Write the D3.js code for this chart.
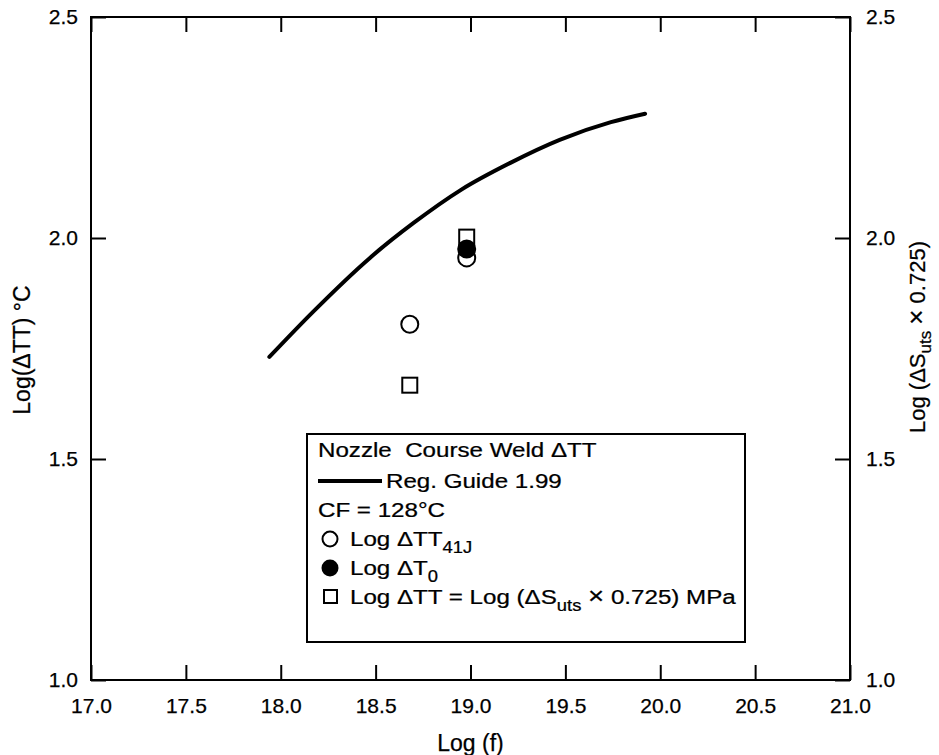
<!DOCTYPE html>
<html>
<head>
<meta charset="utf-8">
<script src="https://cdn.jsdelivr.net/npm/d3@7"></script>
<style>
  html, body { margin: 0; padding: 0; background: #fff; }
  svg { display: block; font-family: "Liberation Sans", Arial, Helvetica, sans-serif; }
  text { white-space: pre; }
</style>
</head>
<body>
<svg id="chart" width="939" height="755"></svg>
<script>
// Reg. Guide 1.99 trend curve: Log(f) vs Log(ΔTT)
const curveLogF  = [17.94, 18.17, 18.47, 18.70, 18.95, 19.21, 19.47, 19.74, 19.92];
const curveLogTT = [1.731, 1.833, 1.955, 2.034, 2.109, 2.170, 2.222, 2.262, 2.281];

// Measured shifts
const openLogF   = [18.68, 18.98];   // Log ΔTT41J
const openLogTT  = [1.805, 1.955];
const filledLogF  = [18.98];         // Log ΔT0
const filledLogTT = [1.975];
const squareLogF  = [18.68, 18.98];  // Log (ΔSuts × 0.725)
const squareLogTT = [1.667, 2.002];

// Axis ticks
const xTicks = [17.0, 17.5, 18.0, 18.5, 19.0, 19.5, 20.0, 20.5, 21.0];
const yTicks = [1.0, 1.5, 2.0, 2.5];

const svg = d3.select("#chart");
const L = 91, R = 850, T = 17, B = 680;

const x = d3.scaleLinear().domain([17, 21]).range([L, R]);
const y = d3.scaleLinear().domain([1, 2.5]).range([B, T]);
const fmt = d3.format(".1f");

// slightly heavier strokes on glyphs, like the printed figure
function ink(sel) {
  sel.attr("fill", "#000").attr("stroke", "#000").attr("stroke-width", 0.25);
}

function styleAxis(g) {
  g.select(".domain").remove();
  g.selectAll(".tick line").attr("stroke", "#000").attr("stroke-width", 2);
  g.selectAll(".tick text").attr("font-size", 21).call(ink);
}

// inward ticks on all four sides
svg.append("g").attr("transform", `translate(0,${B})`)
  .call(d3.axisBottom(x).tickValues(xTicks).tickFormat(fmt).tickSize(-15).tickPadding(18))
  .call(styleAxis);
svg.append("g").attr("transform", `translate(0,${T})`)
  .call(d3.axisTop(x).tickValues(xTicks).tickFormat("").tickSize(-15))
  .call(styleAxis);
svg.append("g").attr("transform", `translate(${L},0)`)
  .call(d3.axisLeft(y).tickValues(yTicks).tickFormat(fmt).tickSize(-15).tickPadding(13))
  .call(styleAxis);
svg.append("g").attr("transform", `translate(${R},0)`)
  .call(d3.axisRight(y).tickValues(yTicks).tickFormat(fmt).tickSize(-15).tickPadding(16))
  .call(styleAxis);

// plot frame
svg.append("rect")
  .attr("x", L).attr("y", T).attr("width", R - L).attr("height", B - T)
  .attr("fill", "none").attr("stroke", "#000").attr("stroke-width", 2);

// axis titles
svg.append("text")
  .attr("x", (L + R) / 2).attr("y", 751)
  .attr("text-anchor", "middle").attr("font-size", 23)
  .call(ink)
  .text("Log (f)");

svg.append("text")
  .attr("transform", "translate(30,350) rotate(-90)")
  .attr("text-anchor", "middle").attr("font-size", 23)
  .call(ink)
  .text("Log(ΔTT) °C");

const rt = svg.append("text")
  .attr("transform", "translate(925,337) rotate(-90)")
  .attr("text-anchor", "middle").attr("font-size", 22)
  .call(ink);
rt.append("tspan").text("Log (ΔS");
rt.append("tspan").attr("font-size", 17).attr("dy", 6).text("uts");
rt.append("tspan").attr("dy", -6).text(" ");
rt.append("tspan").attr("font-size", 26).text("×");
rt.append("tspan").text(" 0.725)");

// trend curve
const curvePts = curveLogF.map((v, i) => [v, curveLogTT[i]]);
svg.append("path")
  .datum(curvePts)
  .attr("fill", "none").attr("stroke", "#000").attr("stroke-width", 4)
  .attr("stroke-linecap", "round")
  .attr("d", d3.line().x(d => x(d[0])).y(d => y(d[1])).curve(d3.curveMonotoneX));

// markers
const sq = 15, rc = 8.5;
svg.append("g").selectAll("rect")
  .data(squareLogF.map((v, i) => [v, squareLogTT[i]]))
  .join("rect")
  .attr("x", d => x(d[0]) - sq / 2).attr("y", d => y(d[1]) - sq / 2)
  .attr("width", sq).attr("height", sq)
  .attr("fill", "#fff").attr("stroke", "#000").attr("stroke-width", 2);
svg.append("g").selectAll("circle")
  .data(filledLogF.map((v, i) => [v, filledLogTT[i]]))
  .join("circle")
  .attr("cx", d => x(d[0])).attr("cy", d => y(d[1])).attr("r", rc)
  .attr("fill", "#000").attr("stroke", "#000").attr("stroke-width", 2);
svg.append("g").selectAll("circle")
  .data(openLogF.map((v, i) => [v, openLogTT[i]]))
  .join("circle")
  .attr("cx", d => x(d[0])).attr("cy", d => y(d[1])).attr("r", rc)
  .attr("fill", "none").attr("stroke", "#000").attr("stroke-width", 2);

// legend
const lg = svg.append("g");
lg.append("rect")
  .attr("x", 307).attr("y", 434).attr("width", 438).attr("height", 208)
  .attr("fill", "#fff").attr("stroke", "#000").attr("stroke-width", 2);

const rows = [457, 488, 517, 546, 575, 604];
const fs = 21;
// legend text is set a little wide
function lgText(px, py) {
  return lg.append("g").attr("transform", `translate(${px},${py}) scale(1.15,1)`)
    .append("text").attr("font-size", fs).call(ink);
}

lgText(318, rows[0]).text("Nozzle  Course Weld ΔTT");
lg.append("line").attr("x1", 318).attr("x2", 382).attr("y1", rows[1] - 7).attr("y2", rows[1] - 7)
  .attr("stroke", "#000").attr("stroke-width", 4);
lgText(386, rows[1]).text("Reg. Guide 1.99");
lgText(318, rows[2]).text("CF = 128°C");

lg.append("circle").attr("cx", 330).attr("cy", rows[3] - 7).attr("r", 7.5)
  .attr("fill", "none").attr("stroke", "#000").attr("stroke-width", 2);
const t1 = lgText(350, rows[3]);
t1.append("tspan").text("Log ΔTT");
t1.append("tspan").attr("font-size", 16).attr("dy", 7).text("41J");

lg.append("circle").attr("cx", 330).attr("cy", rows[4] - 7).attr("r", 8.5)
  .attr("fill", "#000");
const t2 = lgText(350, rows[4]);
t2.append("tspan").text("Log ΔT");
t2.append("tspan").attr("font-size", 16).attr("dy", 7).text("0");

lg.append("rect").attr("x", 324).attr("y", rows[5] - 14).attr("width", 13).attr("height", 13)
  .attr("fill", "none").attr("stroke", "#000").attr("stroke-width", 2);
const t3 = lgText(350, rows[5]);
t3.append("tspan").text("Log ΔTT = Log (ΔS");
t3.append("tspan").attr("font-size", 16).attr("dy", 7).text("uts");
t3.append("tspan").attr("dy", -7).text(" ");
t3.append("tspan").attr("font-size", 24).text("×");
t3.append("tspan").text(" 0.725) MPa");
</script>
</body>
</html>
